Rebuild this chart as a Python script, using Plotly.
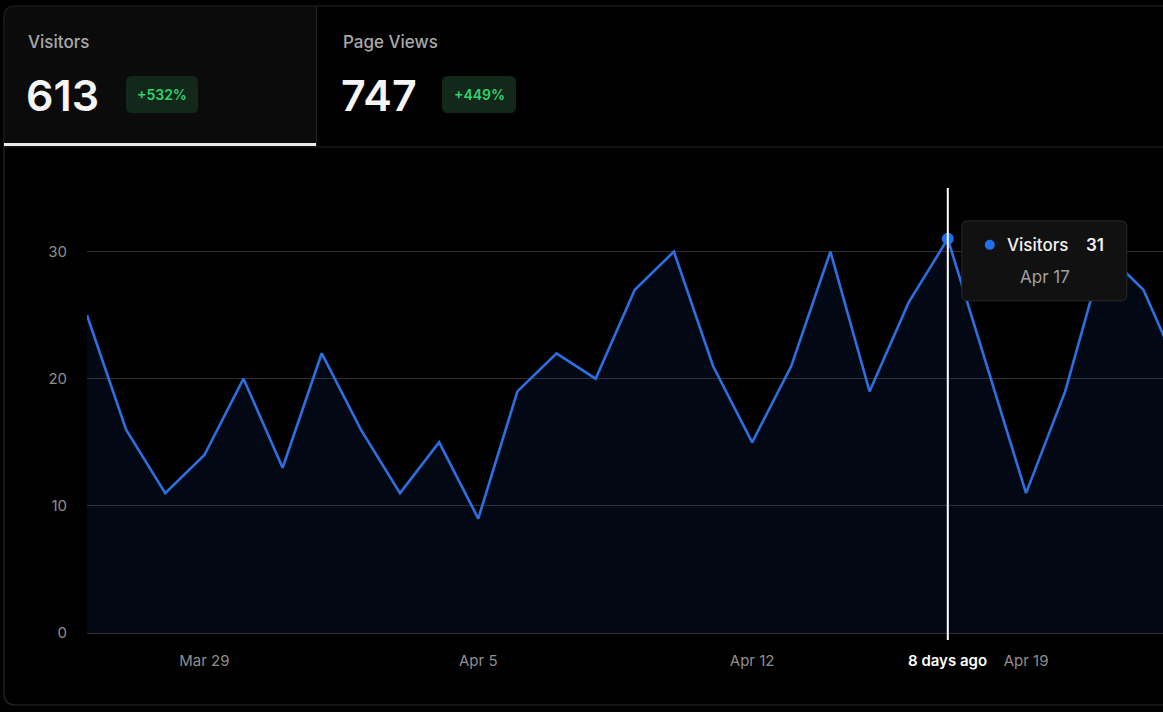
import plotly.graph_objects as go
from datetime import datetime

# ---------------- data ----------------
dates = [
    "2025-03-26", "2025-03-27", "2025-03-28", "2025-03-29", "2025-03-30", "2025-03-31",
    "2025-04-01", "2025-04-02", "2025-04-03", "2025-04-04", "2025-04-05", "2025-04-06",
    "2025-04-07", "2025-04-08", "2025-04-09", "2025-04-10", "2025-04-11", "2025-04-12",
    "2025-04-13", "2025-04-14", "2025-04-15", "2025-04-16", "2025-04-17", "2025-04-18",
    "2025-04-19", "2025-04-20", "2025-04-21", "2025-04-22", "2025-04-23",
]
visitors = [25, 16, 11, 14, 20, 13, 22, 16, 11, 15, 9, 19, 22, 20, 27, 30, 21, 15,
            21, 30, 19, 26, 31, 21, 11, 19, 30, 27, 20]

y_ticks = [0, 10, 20, 30]
x_tick_vals = ["2025-03-29", "2025-04-05", "2025-04-12", "2025-04-19"]
x_tick_text = ["Mar 29", "Apr 5", "Apr 12", "Apr 19"]

hover_date = "2025-04-17"
hover_relative = "8 days ago"

metric_names = ["Visitors", "Page Views"]
metric_totals = ["613", "747"]
metric_changes = ["+532%", "+449%"]

# ---------------- layout geometry ----------------
W, H = 1163, 712
PL, PT, PR, PB = 87, 188, 0, 79
PW, PH = W - PL - PR, H - PT - PB
FONT = "Inter"

def px(x):
    return (x - PL) / PW

def py(y):
    return (PT + PH - y) / PH

def rr_path(x0, y0, x1, y1, r):
    return (f"M{px(x0+r)},{py(y0)} L{px(x1-r)},{py(y0)} Q{px(x1)},{py(y0)} {px(x1)},{py(y0+r)} "
            f"L{px(x1)},{py(y1-r)} Q{px(x1)},{py(y1)} {px(x1-r)},{py(y1)} "
            f"L{px(x0+r)},{py(y1)} Q{px(x0)},{py(y1)} {px(x0)},{py(y1-r)} "
            f"L{px(x0)},{py(y0+r)} Q{px(x0)},{py(y0)} {px(x0+r)},{py(y0)} Z")

hi = dates.index(hover_date)
hover_val = visitors[hi]
hover_label = datetime.strptime(hover_date, "%Y-%m-%d").strftime("%b %-d")

LINE = "#2d6fe0"

fig = go.Figure()
fig.add_trace(go.Scatter(
    x=dates, y=visitors, mode="lines",
    line=dict(color=LINE, width=2.6),
    fill="tozeroy", fillcolor="rgba(37,99,235,0.085)",
    hoverinfo="skip", showlegend=False,
))
fig.add_trace(go.Scatter(
    x=[dates[hi]], y=[hover_val], mode="markers",
    marker=dict(color="#1f6fef", size=12),
    hoverinfo="skip", showlegend=False,
))

shapes = []
annotations = []

# card border
shapes.append(dict(type="path", xref="paper", yref="paper",
                   path=rr_path(4, 6, 1180, 705, 12),
                   line=dict(color="#262626", width=1.2), fillcolor="rgba(0,0,0,0)", layer="below"))
# active tab background
shapes.append(dict(type="path", xref="paper", yref="paper",
                   path=(f"M{px(5)},{py(146)} L{px(5)},{py(18)} Q{px(5)},{py(7)} {px(16)},{py(7)} "
                         f"L{px(316)},{py(7)} L{px(316)},{py(146)} Z"),
                   line=dict(width=0), fillcolor="#0b0b0b", layer="below"))
# tab separator
shapes.append(dict(type="line", xref="paper", yref="paper", x0=px(316.5), x1=px(316.5),
                   y0=py(7), y1=py(146), line=dict(color="#232323", width=1)))
# header bottom line
shapes.append(dict(type="line", xref="paper", yref="paper", x0=px(4), x1=px(1163),
                   y0=py(147), y1=py(147), line=dict(color="#232323", width=1)))
# active underline
shapes.append(dict(type="line", xref="paper", yref="paper", x0=px(4), x1=px(316),
                   y0=py(144.5), y1=py(144.5), line=dict(color="#ececec", width=3)))

# header metrics
tab_x = [26, 341]
badge_x = [(126, 198), (442, 516)]
for i in range(2):
    annotations.append(dict(xref="paper", yref="paper", x=px(tab_x[i]), y=py(42),
                            xanchor="left", yanchor="middle", showarrow=False,
                            text=metric_names[i],
                            font=dict(family=FONT, size=17, color="#a8a8a8", weight=500)))
    annotations.append(dict(xref="paper", yref="paper", x=px(tab_x[i] - 2), y=py(95),
                            xanchor="left", yanchor="middle", showarrow=False,
                            text=metric_totals[i],
                            font=dict(family=FONT, size=43, color="#f5f5f5", weight=600)))
    bx0, bx1 = badge_x[i]
    shapes.append(dict(type="path", xref="paper", yref="paper",
                       path=rr_path(bx0, 76, bx1, 113, 6),
                       line=dict(width=0), fillcolor="#13281b"))
    annotations.append(dict(xref="paper", yref="paper", x=px((bx0 + bx1) / 2), y=py(95),
                            xanchor="center", yanchor="middle", showarrow=False,
                            text=metric_changes[i],
                            font=dict(family=FONT, size=14, color="#2fd36b", weight=600)))

# hover line
shapes.append(dict(type="line", xref="x", yref="paper", x0=dates[hi], x1=dates[hi],
                   y0=py(640), y1=1.0, line=dict(color="#ffffff", width=2), layer="above"))

# tooltip box anchored to hovered point (pixel offsets)
tt = "M20,18 L173,18 Q179,18 179,12 L179,-56 Q179,-62 173,-62 L20,-62 Q14,-62 14,-56 L14,12 Q14,18 20,18 Z"
shapes.append(dict(type="path", xref="x", yref="y", xsizemode="pixel", ysizemode="pixel",
                   xanchor=dates[hi], yanchor=hover_val, path=tt,
                   fillcolor="#111111", line=dict(color="#2a2a2a", width=1), layer="above"))
shapes.append(dict(type="circle", xref="x", yref="y", xsizemode="pixel", ysizemode="pixel",
                   xanchor=dates[hi], yanchor=hover_val, x0=37, x1=47, y0=-11, y1=-1,
                   fillcolor="#1f6fef", line=dict(width=0), layer="above"))
annotations.append(dict(x=dates[hi], y=hover_val, xref="x", yref="y", xshift=57, yshift=-6,
                        xanchor="left", yanchor="middle", showarrow=False, text=metric_names[0],
                        font=dict(family=FONT, size=17, color="#f2f2f2", weight=500)))
annotations.append(dict(x=dates[hi], y=hover_val, xref="x", yref="y", xshift=136, yshift=-6,
                        xanchor="left", yanchor="middle", showarrow=False, text=str(hover_val),
                        font=dict(family=FONT, size=17, color="#f2f2f2", weight=600)))
annotations.append(dict(x=dates[hi], y=hover_val, xref="x", yref="y", xshift=97, yshift=-38,
                        xanchor="center", yanchor="middle", showarrow=False, text=hover_label,
                        font=dict(family=FONT, size=17, color="#a0a0a0")))
annotations.append(dict(x=dates[hi], y=py(660), xref="x", yref="paper",
                        xanchor="center", yanchor="middle", showarrow=False, text=hover_relative,
                        font=dict(family=FONT, size=15, color="#ffffff", weight=600)))

fig.update_layout(
    width=W, height=H,
    margin=dict(l=PL, r=PR, t=PT, b=PB, pad=0),
    paper_bgcolor="#000000", plot_bgcolor="#000000",
    font=dict(family=FONT, color="#8a8a8a"),
    shapes=shapes, annotations=annotations,
    xaxis=dict(type="date", range=["2025-03-26", "2025-04-22 12:00"],
               tickvals=x_tick_vals, ticktext=x_tick_text,
               showgrid=False, zeroline=False, showline=False,
               ticks="outside", ticklen=14, tickcolor="rgba(0,0,0,0)",
               tickfont=dict(family=FONT, size=15, color="#8f8f8f")),
    yaxis=dict(range=[0, 35], tickvals=y_ticks, showgrid=True, gridcolor="#303030", gridwidth=1,
               zeroline=True, zerolinecolor="#303030", zerolinewidth=1, showline=False,
               ticks="outside", ticklen=16, tickcolor="rgba(0,0,0,0)",
               tickfont=dict(family=FONT, size=15, color="#8f8f8f")),
    hovermode=False,
)

fig.write_html("out.html", config={"displayModeBar": False},
               post_script="document.body.style.margin='0';document.body.style.background='#000';")
